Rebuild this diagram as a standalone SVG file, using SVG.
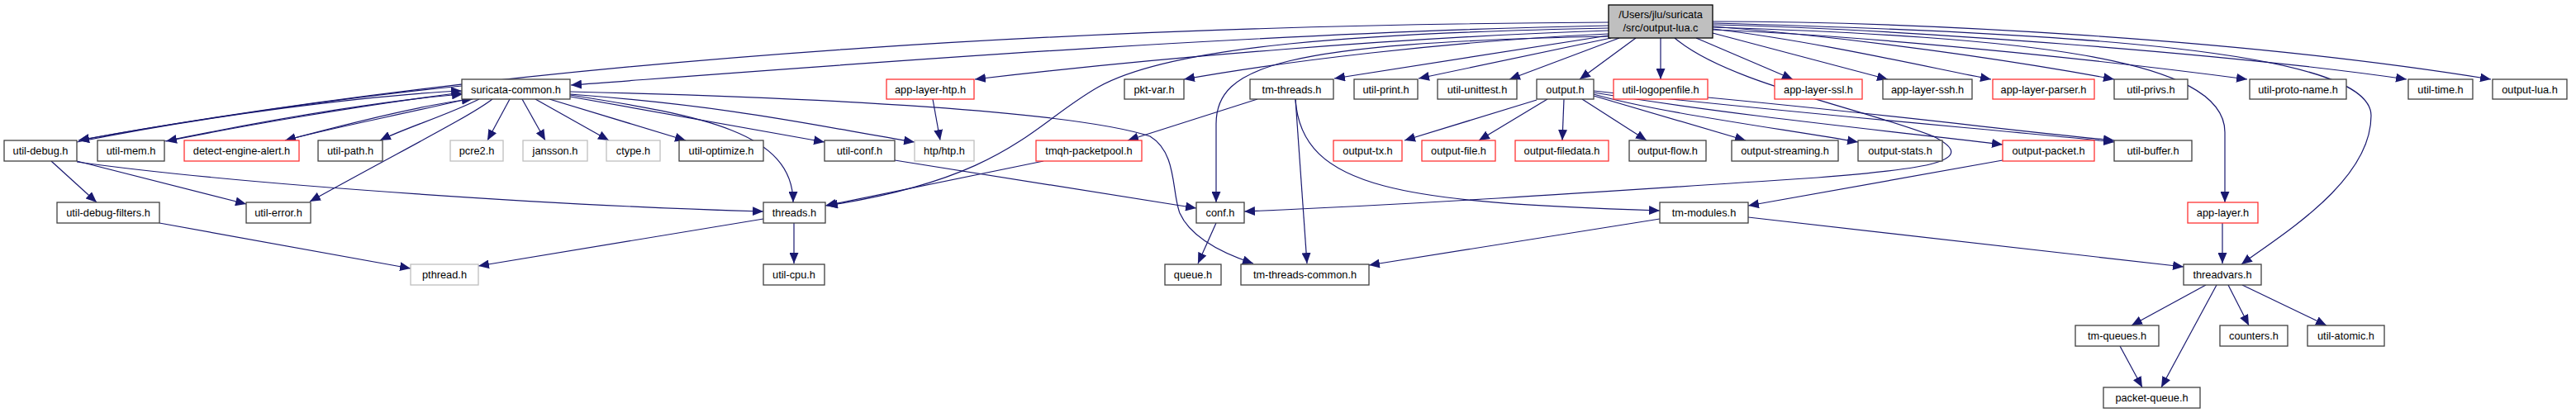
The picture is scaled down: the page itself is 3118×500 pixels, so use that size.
<svg xmlns="http://www.w3.org/2000/svg" width="3118" height="500" viewBox="0 0 3118 500">
<style>
.n rect{fill:#fff;stroke:#404040;stroke-width:1.3}
.r rect{stroke:#f33}
.g rect{stroke:#bfbfbf}
.root rect{fill:#bfbfbf;stroke:#000}
text{font-family:"Liberation Sans",Arial,sans-serif;font-size:12.8px;fill:#000;text-anchor:middle}
#edges path{fill:none;stroke:#191970;stroke-width:1.2;marker-end:url(#a)}
</style>
<defs>
<marker id="a" markerWidth="14" markerHeight="11" refX="13" refY="5.5" orient="auto" markerUnits="userSpaceOnUse">
<path d="M0,0 L13,5.5 L0,11 z" fill="#191970"/>
</marker>
</defs>
<rect width="3118" height="500" fill="#fff"/>
<g id="edges">
<path d="M1947,27 C1400,30 700,60 95,170"/>
<path d="M1947,31 C1500,40 1000,80 691,103"/>
<path d="M1947,37 C1700,45 1400,70 1180,96"/>
<path d="M1947,41 C1750,50 1550,75 1433,96"/>
<path d="M1947,34 C1650,40 1420,55 1330,105 C1250,150 1220,215 1001,249"/>
<path d="M1947,44 C1550,52 1472,80 1472,150 L1472,245"/>
<path d="M1947,43 L1615,95"/>
<path d="M1950,46 L1717,95"/>
<path d="M1960,46 L1827,96"/>
<path d="M1980,46 L1912,96"/>
<path d="M2010,46 L2010,96"/>
<path d="M2053,46 L2170,96"/>
<path d="M2073,40 L2285,96"/>
<path d="M2073,35 C2200,50 2350,85 2410,96"/>
<path d="M2073,32 C2300,50 2500,85 2559,96"/>
<path d="M2073,36 C2300,45 2600,80 2720,96"/>
<path d="M2073,30 C2300,35 2700,65 2913,96"/>
<path d="M2073,26 C2300,26 2700,45 3015,96"/>
<path d="M2073,33 C2450,45 2693,70 2693,160 L2693,245"/>
<path d="M2073,28 C2500,40 2870,60 2870,140 C2870,220 2760,285 2713,320"/>
<path d="M2027,46 C2090,100 2250,130 2340,165 C2400,195 2330,205 2200,215 C1900,235 1700,248 1506,256"/>
<path d="M559,104 C400,120 200,150 95,170"/>
<path d="M559,112 C420,130 280,155 201,171"/>
<path d="M565,120 C480,140 400,155 345,170"/>
<path d="M580,120 C540,140 490,155 460,170"/>
<path d="M93,172 C250,140 450,115 559,110"/>
<path d="M199,171 C350,140 480,120 560,114"/>
<path d="M345,170 C420,150 520,125 572,120"/>
<path d="M596,120 C570,140 500,175 375,244"/>
<path d="M617,120 L590,170"/>
<path d="M632,120 L660,170"/>
<path d="M648,120 L737,170"/>
<path d="M665,120 L830,170"/>
<path d="M690,117 L998,172"/>
<path d="M690,114 C900,130 1000,155 1107,172"/>
<path d="M690,115 C850,140 960,160 960,245"/>
<path d="M690,111 C1000,118 1300,135 1392,165 C1425,185 1418,232 1428,258 C1440,285 1475,305 1517,319"/>
<path d="M62,195 L117,245"/>
<path d="M93,195 L298,247"/>
<path d="M93,196 C300,225 700,250 924,256"/>
<path d="M193,270 L497,325"/>
<path d="M924,265 L579,322"/>
<path d="M961,270 L961,319"/>
<path d="M1263,195 L999,249"/>
<path d="M1083,194 L1448,252"/>
<path d="M1472,270 L1450,319"/>
<path d="M1129,120 L1138,170"/>
<path d="M1522,120 L1365,170"/>
<path d="M1568,120 L1582,319"/>
<path d="M1568,120 C1575,230 1700,245 2009,255"/>
<path d="M1860,121 L1700,170"/>
<path d="M1873,120 L1790,170"/>
<path d="M1893,120 L1891,170"/>
<path d="M1915,120 L1993,170"/>
<path d="M1929,116 L2113,170"/>
<path d="M1929,114 C2000,135 2150,155 2249,172"/>
<path d="M1929,112 C2100,140 2300,160 2424,175"/>
<path d="M1929,110 C2200,140 2450,160 2559,172"/>
<path d="M2067,118 C2300,140 2450,160 2559,170"/>
<path d="M2424,194 L2116,249"/>
<path d="M2009,265 L1657,321"/>
<path d="M2116,263 L2643,323"/>
<path d="M2690,270 L2690,319"/>
<path d="M2670,345 L2580,394"/>
<path d="M2683,345 L2616,469"/>
<path d="M2697,345 L2722,394"/>
<path d="M2714,345 L2816,394"/>
<path d="M2566,419 L2593,469"/>
</g>
<g id="n0" class="n root"><rect x="1947" y="6" width="126" height="40"/><text x="2010" y="22">/Users/jlu/suricata</text><text x="2010" y="38">/src/output-lua.c</text></g>
<g id="n1" class="n"><rect x="559" y="96" width="131" height="24"/><text x="624.5" y="112.5">suricata-common.h</text></g>
<g id="n2" class="n r"><rect x="1073" y="96" width="106" height="24"/><text x="1126" y="112.5">app-layer-htp.h</text></g>
<g id="n3" class="n"><rect x="1361" y="96" width="72" height="24"/><text x="1397" y="112.5">pkt-var.h</text></g>
<g id="n4" class="n"><rect x="1513" y="96" width="101" height="24"/><text x="1563.5" y="112.5">tm-threads.h</text></g>
<g id="n5" class="n"><rect x="1639" y="96" width="77" height="24"/><text x="1677.5" y="112.5">util-print.h</text></g>
<g id="n6" class="n"><rect x="1740" y="96" width="96" height="24"/><text x="1788" y="112.5">util-unittest.h</text></g>
<g id="n7" class="n"><rect x="1860" y="96" width="69" height="24"/><text x="1894.5" y="112.5">output.h</text></g>
<g id="n8" class="n r"><rect x="1953" y="96" width="114" height="24"/><text x="2010" y="112.5">util-logopenfile.h</text></g>
<g id="n9" class="n r"><rect x="2148" y="96" width="106" height="24"/><text x="2201" y="112.5">app-layer-ssl.h</text></g>
<g id="n10" class="n"><rect x="2279" y="96" width="108" height="24"/><text x="2333" y="112.5">app-layer-ssh.h</text></g>
<g id="n11" class="n r"><rect x="2412" y="96" width="123" height="24"/><text x="2473.5" y="112.5">app-layer-parser.h</text></g>
<g id="n12" class="n"><rect x="2559" y="96" width="89" height="24"/><text x="2603.5" y="112.5">util-privs.h</text></g>
<g id="n13" class="n"><rect x="2723" y="96" width="117" height="24"/><text x="2781.5" y="112.5">util-proto-name.h</text></g>
<g id="n14" class="n"><rect x="2915" y="96" width="78" height="24"/><text x="2954" y="112.5">util-time.h</text></g>
<g id="n15" class="n"><rect x="3017" y="96" width="90" height="24"/><text x="3062" y="112.5">output-lua.h</text></g>
<g id="n16" class="n"><rect x="5" y="170" width="88" height="25"/><text x="49" y="187">util-debug.h</text></g>
<g id="n17" class="n"><rect x="118" y="170" width="81" height="25"/><text x="158.5" y="187">util-mem.h</text></g>
<g id="n18" class="n r"><rect x="223" y="170" width="139" height="25"/><text x="292.5" y="187">detect-engine-alert.h</text></g>
<g id="n19" class="n"><rect x="385" y="170" width="78" height="25"/><text x="424" y="187">util-path.h</text></g>
<g id="n20" class="n g"><rect x="545" y="170" width="64" height="25"/><text x="577" y="187">pcre2.h</text></g>
<g id="n21" class="n g"><rect x="633" y="170" width="78" height="25"/><text x="672" y="187">jansson.h</text></g>
<g id="n22" class="n g"><rect x="734" y="170" width="65" height="25"/><text x="766.5" y="187">ctype.h</text></g>
<g id="n23" class="n"><rect x="822" y="170" width="102" height="25"/><text x="873" y="187">util-optimize.h</text></g>
<g id="n24" class="n"><rect x="998" y="170" width="85" height="25"/><text x="1040.5" y="187">util-conf.h</text></g>
<g id="n25" class="n g"><rect x="1107" y="170" width="72" height="25"/><text x="1143" y="187">htp/htp.h</text></g>
<g id="n26" class="n r"><rect x="1254" y="170" width="128" height="25"/><text x="1318" y="187">tmqh-packetpool.h</text></g>
<g id="n27" class="n r"><rect x="1614" y="170" width="83" height="25"/><text x="1655.5" y="187">output-tx.h</text></g>
<g id="n28" class="n r"><rect x="1721" y="170" width="89" height="25"/><text x="1765.5" y="187">output-file.h</text></g>
<g id="n29" class="n r"><rect x="1834" y="170" width="113" height="25"/><text x="1890.5" y="187">output-filedata.h</text></g>
<g id="n30" class="n"><rect x="1972" y="170" width="93" height="25"/><text x="2018.5" y="187">output-flow.h</text></g>
<g id="n31" class="n"><rect x="2096" y="170" width="129" height="25"/><text x="2160.5" y="187">output-streaming.h</text></g>
<g id="n32" class="n"><rect x="2249" y="170" width="102" height="25"/><text x="2300" y="187">output-stats.h</text></g>
<g id="n33" class="n r"><rect x="2424" y="170" width="111" height="25"/><text x="2479.5" y="187">output-packet.h</text></g>
<g id="n34" class="n"><rect x="2559" y="170" width="94" height="25"/><text x="2606" y="187">util-buffer.h</text></g>
<g id="n35" class="n"><rect x="69" y="245" width="124" height="25"/><text x="131" y="262">util-debug-filters.h</text></g>
<g id="n36" class="n"><rect x="298" y="245" width="78" height="25"/><text x="337" y="262">util-error.h</text></g>
<g id="n37" class="n"><rect x="924" y="245" width="75" height="25"/><text x="961.5" y="262">threads.h</text></g>
<g id="n38" class="n"><rect x="1448" y="245" width="58" height="25"/><text x="1477" y="262">conf.h</text></g>
<g id="n39" class="n"><rect x="2009" y="245" width="107" height="25"/><text x="2062.5" y="262">tm-modules.h</text></g>
<g id="n40" class="n r"><rect x="2648" y="245" width="85" height="25"/><text x="2690.5" y="262">app-layer.h</text></g>
<g id="n41" class="n g"><rect x="497" y="320" width="82" height="25"/><text x="538" y="337">pthread.h</text></g>
<g id="n42" class="n"><rect x="924" y="320" width="74" height="25"/><text x="961" y="337">util-cpu.h</text></g>
<g id="n43" class="n"><rect x="1410" y="320" width="68" height="25"/><text x="1444" y="337">queue.h</text></g>
<g id="n44" class="n"><rect x="1502" y="320" width="155" height="25"/><text x="1579.5" y="337">tm-threads-common.h</text></g>
<g id="n45" class="n"><rect x="2643" y="320" width="94" height="25"/><text x="2690" y="337">threadvars.h</text></g>
<g id="n46" class="n"><rect x="2512" y="394" width="101" height="25"/><text x="2562.5" y="411">tm-queues.h</text></g>
<g id="n47" class="n"><rect x="2687" y="394" width="82" height="25"/><text x="2728" y="411">counters.h</text></g>
<g id="n48" class="n"><rect x="2793" y="394" width="93" height="25"/><text x="2839.5" y="411">util-atomic.h</text></g>
<g id="n49" class="n"><rect x="2546" y="469" width="117" height="25"/><text x="2604.5" y="486">packet-queue.h</text></g>
</svg>
